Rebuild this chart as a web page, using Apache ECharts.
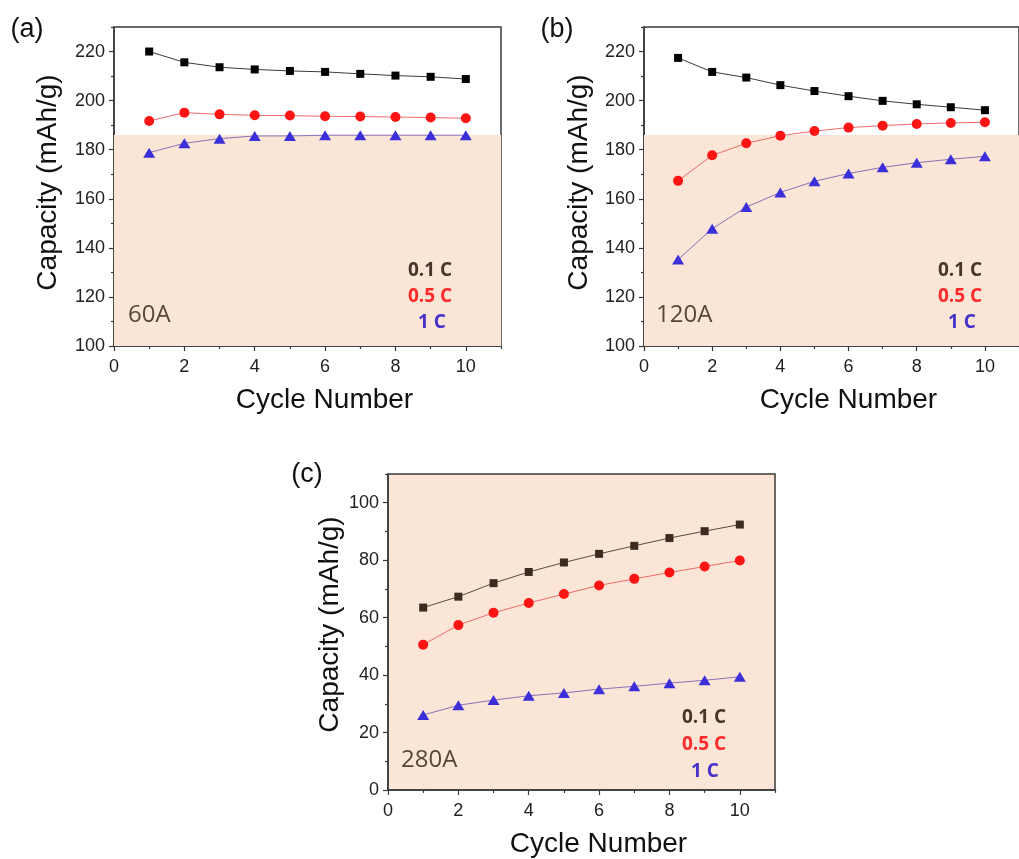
<!DOCTYPE html>
<html>
<head>
<meta charset="utf-8">
<style>
  html, body { margin: 0; padding: 0; background: #fff; }
  #main { width: 1019px; height: 859px; }
</style>
<script src="https://cdn.jsdelivr.net/npm/echarts@6/dist/echarts.min.js"></script>
</head>
<body>
<div id="main"></div>
<script>
const cycles = [1, 2, 3, 4, 5, 6, 7, 8, 9, 10];

// (a) 60A
const a01 = [220.0, 215.6, 213.6, 212.7, 212.1, 211.7, 210.9, 210.2, 209.7, 208.8];
const a05 = [191.7, 195.1, 194.4, 194.0, 193.9, 193.6, 193.5, 193.3, 193.1, 192.8];
const a1 = [178.8, 182.6, 184.5, 185.6, 185.6, 185.9, 185.9, 185.9, 185.9, 185.9];

// (b) 120A
const b01 = [217.4, 211.7, 209.4, 206.3, 203.9, 201.8, 199.9, 198.5, 197.3, 196.1];
const b05 = [167.3, 177.7, 182.6, 185.7, 187.6, 189.0, 189.8, 190.5, 190.9, 191.2];
const b1 = [135.2, 147.8, 156.6, 162.6, 167.1, 170.3, 172.8, 174.7, 176.1, 177.3];

// (c) 280A
const c01 = [63.5, 67.3, 72.0, 75.9, 79.2, 82.2, 85.0, 87.7, 90.1, 92.4];
const c05 = [50.6, 57.4, 61.7, 65.1, 68.2, 71.2, 73.5, 75.7, 77.8, 79.9];
const c1 = [26.1, 29.5, 31.3, 32.8, 33.8, 35.1, 36.1, 37.2, 38.2, 39.4];

const xMajor = [0, 2, 4, 6, 8, 10];
const xMinor = [1, 3, 5, 7, 9, 11];
const yMajorAB = [100, 120, 140, 160, 180, 200, 220];
const yMinorAB = [110, 130, 150, 170, 190, 210, 230];
const yMajorC = [0, 20, 40, 60, 80, 100];
const yMinorC = [10, 30, 50, 70, 90, 110];
const shadeTop = 186;

const chart = echarts.init(document.getElementById('main'));

const axisColor = '#3a3a3a';
const peach = '#fbe5d6';
const tickFont = { color: '#222', fontSize: 18, fontFamily: 'Liberation Sans' };
const nameFont = { color: '#111', fontSize: 28, fontFamily: 'Liberation Sans' };

const grids = [
  { left: 114, top: 27, width: 387, height: 319, yMin: 100, yMax: 230, yMajor: yMajorAB, yMinor: yMinorAB, yGap: 52, yShift: 8, bg: 'transparent' },
  { left: 644, top: 27, width: 387, height: 319, yMin: 100, yMax: 230, yMajor: yMajorAB, yMinor: yMinorAB, yGap: 51, yShift: 8, bg: 'transparent' },
  { left: 388, top: 474, width: 387, height: 318, yMin: 0, yMax: 110, yMajor: yMajorC, yMinor: yMinorC, yGap: 44, yShift: 15, bg: peach }
];

const xAxis = [];
const yAxis = [];
grids.forEach(function (g, i) {
  xAxis.push({
    type: 'value', gridIndex: i, min: 0, max: 11, interval: 1,
    name: 'Cycle Number', nameLocation: 'middle', nameGap: 40,
    nameTextStyle: Object.assign({ padding: [0, 0, 0, 34], verticalAlign: 'top' }, nameFont),
    axisLine: { show: true, onZero: false, lineStyle: { color: axisColor, width: 1.5 } },
    axisTick: { show: true, length: 5, customValues: xMajor, lineStyle: { color: axisColor, width: 1.2 } },
    axisLabel: Object.assign({ margin: 12, customValues: xMajor }, tickFont),
    splitLine: { show: false }
  });
  xAxis.push({
    type: 'value', gridIndex: i, min: 0, max: 11, interval: 1, position: 'bottom',
    axisLine: { show: false },
    axisTick: { show: true, length: 3, customValues: xMinor, lineStyle: { color: axisColor, width: 1.2 } },
    axisLabel: { show: false },
    splitLine: { show: false }
  });
  yAxis.push({
    type: 'value', gridIndex: i, min: g.yMin, max: g.yMax, interval: 10,
    name: 'Capacity (mAh/g)', nameLocation: 'middle', nameGap: g.yGap,
    nameTextStyle: Object.assign({ padding: [0, 0, 0, g.yShift] }, nameFont),
    axisLine: { show: true, onZero: false, lineStyle: { color: axisColor, width: 1.5 } },
    axisTick: { show: true, length: 5, customValues: g.yMajor, lineStyle: { color: axisColor, width: 1.2 } },
    axisLabel: Object.assign({ margin: 9, customValues: g.yMajor }, tickFont),
    splitLine: { show: false }
  });
  yAxis.push({
    type: 'value', gridIndex: i, min: g.yMin, max: g.yMax, interval: 10, position: 'left',
    axisLine: { show: false },
    axisTick: { show: true, length: 3, customValues: g.yMinor, lineStyle: { color: axisColor, width: 1.2 } },
    axisLabel: { show: false },
    splitLine: { show: false }
  });
});

function pairs(vals) {
  return cycles.map(function (c, i) { return [c, vals[i]]; });
}

function lineSeries(i, vals, kind, dark) {
  const styles = {
    sq: { symbol: 'rect', size: 8, color: dark ? '#3b2b20' : '#000', line: dark ? '#5a4a40' : '#3a3a3a' },
    ci: { symbol: 'circle', size: 10, color: '#ff1414', line: '#f06a6a' },
    tr: { symbol: 'triangle', size: [12, 10], color: '#3a2fd9', line: '#8a70b8' }
  };
  const s = styles[kind];
  return {
    type: 'line', xAxisIndex: 2 * i, yAxisIndex: 2 * i, z: 3,
    data: pairs(vals), symbol: s.symbol, symbolSize: s.size,
    itemStyle: { color: s.color, opacity: 1 },
    lineStyle: { color: s.line, width: 1 },
    emphasis: { disabled: true }, animation: false
  };
}

function shade(i) {
  return {
    type: 'line', xAxisIndex: 2 * i, yAxisIndex: 2 * i, z: 1, data: [], animation: false,
    markArea: {
      silent: true,
      itemStyle: { color: peach },
      data: [[{ coord: [0, 100] }, { coord: [11, shadeTop] }]]
    }
  };
}

const series = [
  shade(0), shade(1),
  lineSeries(0, a01, 'sq'), lineSeries(0, a05, 'ci'), lineSeries(0, a1, 'tr'),
  lineSeries(1, b01, 'sq'), lineSeries(1, b05, 'ci'), lineSeries(1, b1, 'tr'),
  lineSeries(2, c01, 'sq', true), lineSeries(2, c05, 'ci'), lineSeries(2, c1, 'tr')
];

function txt(x, y, text, color, font, align) {
  return {
    type: 'text', x: x, y: y, z: 10,
    style: { text: text, fill: color, font: font, align: align || 'center', verticalAlign: 'middle' }
  };
}

const panelFont = '27px "Liberation Sans"';
const lblFont = 'bold 19px "Open Sans"';
const tagFont = '24px "Open Sans"';

const graphic = [
  txt(27, 30, '(a)', '#111', panelFont),
  txt(557, 30, '(b)', '#111', panelFont),
  txt(307, 475, '(c)', '#111', panelFont),

  txt(128, 315, '60A', '#5b4636', tagFont, 'left'),
  txt(656, 315, '120A', '#5b4636', tagFont, 'left'),
  txt(401, 760, '280A', '#5b4636', tagFont, 'left'),

  txt(430, 271, '0.1 C', '#47352a', lblFont),
  txt(430, 297, '0.5 C', '#ff2a2a', lblFont),
  txt(432, 323, '1 C', '#4632c8', lblFont),
  txt(960, 271, '0.1 C', '#47352a', lblFont),
  txt(960, 297, '0.5 C', '#ff2a2a', lblFont),
  txt(962, 323, '1 C', '#4632c8', lblFont),
  txt(704, 718, '0.1 C', '#47352a', lblFont),
  txt(704, 745, '0.5 C', '#ff2a2a', lblFont),
  txt(705, 772, '1 C', '#4632c8', lblFont)
];

chart.setOption({
  animation: false,
  grid: grids.map(function (g) {
    return {
      left: g.left, top: g.top, width: g.width, height: g.height,
      show: true, backgroundColor: g.bg, borderColor: axisColor, borderWidth: 1.5
    };
  }),
  xAxis: xAxis,
  yAxis: yAxis,
  series: series,
  graphic: graphic
});
</script>
</body>
</html>
